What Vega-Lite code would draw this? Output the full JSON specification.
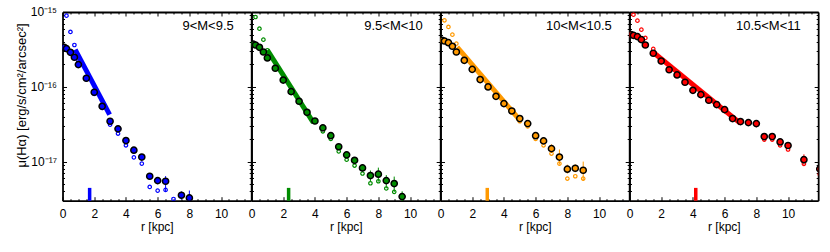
{
  "$schema": "https://vega.github.io/schema/vega-lite/v6.json",
  "autosize": {"type": "pad"},
  "padding": {"left": 15.5, "top": 6, "right": 0, "bottom": 12},
  "background": "white",
  "spacing": 0,
  "bounds": "flush",
  "datasets": {
    "big": [
      {"p":1,"r":0.1,"mu":3.37e-16},{"p":1,"r":0.25,"mu":3.24e-16},{"p":1,"r":0.5,"mu":2.89e-16},{"p":1,"r":0.75,"mu":2.48e-16},{"p":1,"r":1.0,"mu":1.98e-16},{"p":1,"r":1.5,"mu":1.30e-16},{"p":1,"r":2.0,"mu":8.45e-17},{"p":1,"r":2.5,"mu":5.48e-17},{"p":1,"r":3.0,"mu":3.46e-17},{"p":1,"r":3.5,"mu":2.74e-17},{"p":1,"r":4.0,"mu":1.91e-17},{"p":1,"r":4.5,"mu":1.42e-17},{"p":1,"r":5.0,"mu":1.15e-17},{"p":1,"r":5.5,"mu":6.37e-18},{"p":1,"r":6.0,"mu":5.57e-18},{"p":1,"r":6.5,"mu":5.46e-18},{"p":1,"r":7.5,"mu":3.55e-18},{"p":1,"r":8.0,"mu":3.27e-18},
      {"p":2,"r":0.1,"mu":3.73e-16},{"p":2,"r":0.25,"mu":3.62e-16},{"p":2,"r":0.5,"mu":3.37e-16},{"p":2,"r":0.75,"mu":2.92e-16},{"p":2,"r":1.0,"mu":2.43e-16},{"p":2,"r":1.5,"mu":1.77e-16},{"p":2,"r":2.0,"mu":1.23e-16},{"p":2,"r":2.5,"mu":8.61e-17},{"p":2,"r":3.0,"mu":6.40e-17},{"p":2,"r":3.5,"mu":4.56e-17},{"p":2,"r":4.0,"mu":3.49e-17},{"p":2,"r":4.5,"mu":2.82e-17},{"p":2,"r":5.0,"mu":2.22e-17},{"p":2,"r":5.5,"mu":1.58e-17},{"p":2,"r":6.0,"mu":1.23e-17},{"p":2,"r":6.5,"mu":1.04e-17},{"p":2,"r":7.0,"mu":8.22e-18},{"p":2,"r":7.5,"mu":6.50e-18},{"p":2,"r":8.0,"mu":6.78e-18},{"p":2,"r":8.5,"mu":5.57e-18},{"p":2,"r":9.0,"mu":5.08e-18},{"p":2,"r":9.5,"mu":3.40e-18},
      {"p":3,"r":0.1,"mu":4.18e-16},{"p":3,"r":0.25,"mu":4.09e-16},{"p":3,"r":0.5,"mu":3.89e-16},{"p":3,"r":0.75,"mu":3.48e-16},{"p":3,"r":1.0,"mu":2.92e-16},{"p":3,"r":1.5,"mu":2.26e-16},{"p":3,"r":2.0,"mu":1.71e-16},{"p":3,"r":2.5,"mu":1.25e-16},{"p":3,"r":3.0,"mu":9.95e-17},{"p":3,"r":3.5,"mu":7.46e-17},{"p":3,"r":4.0,"mu":5.96e-17},{"p":3,"r":4.5,"mu":4.75e-17},{"p":3,"r":5.0,"mu":3.76e-17},{"p":3,"r":5.5,"mu":3.22e-17},{"p":3,"r":6.0,"mu":2.22e-17},{"p":3,"r":6.5,"mu":1.89e-17},{"p":3,"r":7.0,"mu":1.49e-17},{"p":3,"r":7.5,"mu":1.15e-17},{"p":3,"r":8.0,"mu":7.91e-18},{"p":3,"r":8.5,"mu":8.15e-18},{"p":3,"r":9.0,"mu":7.66e-18},
      {"p":4,"r":0.1,"mu":4.98e-16},{"p":4,"r":0.25,"mu":4.88e-16},{"p":4,"r":0.5,"mu":4.68e-16},{"p":4,"r":0.75,"mu":4.27e-16},{"p":4,"r":1.0,"mu":3.62e-16},{"p":4,"r":1.5,"mu":2.81e-16},{"p":4,"r":2.0,"mu":2.21e-16},{"p":4,"r":2.5,"mu":1.69e-16},{"p":4,"r":3.0,"mu":1.44e-16},{"p":4,"r":3.5,"mu":1.15e-16},{"p":4,"r":4.0,"mu":8.97e-17},{"p":4,"r":4.5,"mu":7.85e-17},{"p":4,"r":5.0,"mu":6.61e-17},{"p":4,"r":5.5,"mu":5.78e-17},{"p":4,"r":6.0,"mu":4.95e-17},{"p":4,"r":6.5,"mu":3.76e-17},{"p":4,"r":7.0,"mu":3.43e-17},{"p":4,"r":7.5,"mu":3.32e-17},{"p":4,"r":8.0,"mu":3.22e-17},{"p":4,"r":8.5,"mu":2.16e-17},{"p":4,"r":9.0,"mu":2.16e-17},{"p":4,"r":9.5,"mu":1.83e-17},{"p":4,"r":10.0,"mu":1.64e-17},{"p":4,"r":11.0,"mu":1.06e-17},{"p":4,"r":12.0,"mu":7.98e-18}
    ],
    "small": [
      {"p":1,"r":0.25,"mu":8.94e-16},{"p":1,"r":0.5,"mu":5.41e-16},{"p":1,"r":0.75,"mu":3.62e-16},{"p":1,"r":1.0,"mu":2.19e-16},{"p":1,"r":1.5,"mu":1.27e-16},{"p":1,"r":2.0,"mu":8.04e-17},{"p":1,"r":2.5,"mu":5.21e-17},{"p":1,"r":3.0,"mu":3.12e-17},{"p":1,"r":3.5,"mu":2.37e-17},{"p":1,"r":4.0,"mu":1.65e-17},{"p":1,"r":4.5,"mu":1.14e-17},{"p":1,"r":5.0,"mu":9.40e-18},{"p":1,"r":5.5,"mu":4.58e-18},{"p":1,"r":6.0,"mu":4.09e-18},{"p":1,"r":6.5,"mu":4.18e-18},{"p":1,"r":7.0,"mu":3.16e-18},
      {"p":2,"r":0.25,"mu":8.57e-16},{"p":2,"r":0.5,"mu":5.98e-16},{"p":2,"r":0.75,"mu":4.27e-16},{"p":2,"r":1.0,"mu":3.08e-16},{"p":2,"r":1.5,"mu":1.74e-16},{"p":2,"r":2.0,"mu":1.22e-16},{"p":2,"r":2.5,"mu":8.51e-17},{"p":2,"r":3.0,"mu":6.31e-17},{"p":2,"r":3.5,"mu":4.47e-17},{"p":2,"r":4.0,"mu":3.39e-17},{"p":2,"r":4.5,"mu":2.54e-17},{"p":2,"r":5.0,"mu":2.01e-17},{"p":2,"r":5.5,"mu":1.37e-17},{"p":2,"r":6.0,"mu":1.06e-17},{"p":2,"r":6.5,"mu":8.85e-18},{"p":2,"r":7.0,"mu":6.92e-18},{"p":2,"r":7.5,"mu":5.13e-18},{"p":2,"r":8.0,"mu":5.46e-18},{"p":2,"r":8.5,"mu":4.37e-18},{"p":2,"r":9.0,"mu":3.94e-18},{"p":2,"r":9.5,"mu":3.24e-18},
      {"p":3,"r":0.25,"mu":7.74e-16},{"p":3,"r":0.5,"mu":6.31e-16},{"p":3,"r":0.75,"mu":4.98e-16},{"p":3,"r":1.0,"mu":3.78e-16},{"p":3,"r":1.5,"mu":2.19e-16},{"p":3,"r":2.0,"mu":1.66e-16},{"p":3,"r":2.5,"mu":1.23e-16},{"p":3,"r":3.0,"mu":9.77e-17},{"p":3,"r":3.5,"mu":7.24e-17},{"p":3,"r":4.0,"mu":5.75e-17},{"p":3,"r":4.5,"mu":4.57e-17},{"p":3,"r":5.0,"mu":3.46e-17},{"p":3,"r":5.5,"mu":2.96e-17},{"p":3,"r":6.0,"mu":2.01e-17},{"p":3,"r":6.5,"mu":1.65e-17},{"p":3,"r":7.0,"mu":1.28e-17},{"p":3,"r":7.5,"mu":9.40e-18},{"p":3,"r":8.0,"mu":5.93e-18},{"p":3,"r":8.5,"mu":6.37e-18},{"p":3,"r":9.0,"mu":5.93e-18},
      {"p":4,"r":0.25,"mu":9.20e-16},{"p":4,"r":0.5,"mu":7.66e-16},{"p":4,"r":0.75,"mu":5.81e-16},{"p":4,"r":1.0,"mu":4.50e-16},{"p":4,"r":1.5,"mu":3.21e-16},{"p":4,"r":2.0,"mu":2.14e-16},{"p":4,"r":2.5,"mu":1.66e-16},{"p":4,"r":3.0,"mu":1.41e-16},{"p":4,"r":3.5,"mu":1.12e-16},{"p":4,"r":4.0,"mu":8.71e-17},{"p":4,"r":4.5,"mu":7.59e-17},{"p":4,"r":5.0,"mu":6.46e-17},{"p":4,"r":5.5,"mu":5.62e-17},{"p":4,"r":6.0,"mu":4.79e-17},{"p":4,"r":6.5,"mu":3.63e-17},{"p":4,"r":7.0,"mu":3.31e-17},{"p":4,"r":7.5,"mu":3.24e-17},{"p":4,"r":8.0,"mu":3.09e-17},{"p":4,"r":8.5,"mu":1.97e-17},{"p":4,"r":9.0,"mu":1.97e-17},{"p":4,"r":9.5,"mu":1.65e-17},{"p":4,"r":10.0,"mu":1.45e-17},{"p":4,"r":11.0,"mu":9.33e-18},{"p":4,"r":12.0,"mu":6.76e-18}
    ],
    "fit": [
      {"p":1,"r":0.8,"mu":3.14e-16},{"p":1,"r":2.97,"mu":4.25e-17},
      {"p":2,"r":1.0,"mu":3.09e-16},{"p":2,"r":3.9,"mu":3.31e-17},
      {"p":3,"r":1.05,"mu":3.39e-16},{"p":3,"r":5.06,"mu":3.47e-17},
      {"p":4,"r":1.55,"mu":2.83e-16},{"p":4,"r":7.0,"mu":3.24e-17}
    ],
    "err": [
      {"p":1,"r":5.5,"lo":5.8e-18,"hi":7.0e-18},{"p":1,"r":6.0,"lo":5.0e-18,"hi":6.2e-18},{"p":1,"r":6.5,"lo":4.0e-18,"hi":6.4e-18},{"p":1,"r":7.5,"lo":3.1e-18,"hi":4.0e-18},{"p":1,"r":8.0,"lo":2.9e-18,"hi":4.1e-18},
      {"p":2,"r":7.0,"lo":7.3e-18,"hi":9.2e-18},{"p":2,"r":7.5,"lo":5.4e-18,"hi":7.6e-18},{"p":2,"r":8.0,"lo":5.4e-18,"hi":8.3e-18},{"p":2,"r":8.5,"lo":4.4e-18,"hi":6.6e-18},{"p":2,"r":9.0,"lo":3.9e-18,"hi":6.3e-18},{"p":2,"r":9.5,"lo":2.9e-18,"hi":4.0e-18},
      {"p":3,"r":7.0,"lo":1.3e-17,"hi":1.7e-17},{"p":3,"r":7.5,"lo":9.1e-18,"hi":1.45e-17},{"p":3,"r":8.0,"lo":6.9e-18,"hi":9.1e-18},{"p":3,"r":8.5,"lo":7.2e-18,"hi":9.2e-18},{"p":3,"r":9.0,"lo":5.5e-18,"hi":1.0e-17},
      {"p":4,"r":10.0,"lo":1.5e-17,"hi":1.8e-17},{"p":4,"r":11.0,"lo":9.0e-18,"hi":1.25e-17},{"p":4,"r":12.0,"lo":6.5e-18,"hi":9.5e-18}
    ],
    "bar": [
      {"p":1,"r":1.71,"lo":3e-18,"hi":4.45e-18},
      {"p":2,"r":2.34,"lo":3e-18,"hi":4.45e-18},
      {"p":3,"r":2.95,"lo":3e-18,"hi":4.45e-18},
      {"p":4,"r":4.18,"lo":3e-18,"hi":4.45e-18}
    ],
    "lab": [
      {"p":1,"t":"9<M<9.5"},{"p":2,"t":"9.5<M<10"},{"p":3,"t":"10<M<10.5"},{"p":4,"t":"10.5<M<11"}
    ]
  },
  "hconcat": [
    {
      "width": 188.7, "height": 188.7,
      "resolve": {"axis": {"x": "independent", "y": "independent"}},
      "layer": [
        {"data": {"name": "fit"}, "transform": [{"filter": "datum.p == 1"}],
         "mark": {"type": "line", "color": "#0000ff", "strokeWidth": 5, "clip": true},
         "encoding": {
           "x": {"field": "r", "type": "quantitative", "scale": {"domain": [0, 11.9], "nice": false, "zero": false}, "axis": {"orient": "bottom", "values": [0,2,4,6,8,10], "tickSize": -4, "labelPadding": 12, "title": "r [kpc]", "titlePadding": 2}},
           "y": {"field": "mu", "type": "quantitative", "scale": {"type": "log", "domain": [3e-18, 1e-15], "nice": false}, "axis": {"orient": "left", "values": [1e-17, 1e-16, 1e-15], "tickSize": -4, "labelPadding": 10, "labelExpr": "datum.value < 5e-17 ? '10⁻¹⁷' : (datum.value < 5e-16 ? '10⁻¹⁶' : '10⁻¹⁵')", "title": "μ(Hα) [erg/s/cm²/arcsec²]", "titleFontSize": 13, "titleX": -40.8, "titleY": 83, "titleAngle": -90, "titleAlign": "center", "titleBaseline": "middle"}}
         }},
        {"data": {"name": "small"}, "transform": [{"filter": "datum.p == 1"}],
         "mark": {"type": "point", "filled": false, "color": "#0000ff", "size": 12, "strokeWidth": 1.2, "opacity": 1, "clip": true},
         "encoding": {
           "x": {"field": "r", "type": "quantitative", "scale": {"domain": [0, 11.9], "nice": false, "zero": false}, "axis": {"orient": "top", "values": [0,2,4,6,8,10], "tickSize": -4, "labels": false, "title": null}},
           "y": {"field": "mu", "type": "quantitative", "scale": {"type": "log", "domain": [3e-18, 1e-15], "nice": false}, "axis": {"orient": "right", "values": [1e-17, 1e-16, 1e-15], "tickSize": -4, "labels": false, "title": null}}
         }},
        {"data": {"name": "err"}, "transform": [{"filter": "datum.p == 1"}],
         "mark": {"type": "rule", "color": "#0000ff", "strokeWidth": 1, "clip": true},
         "encoding": {
           "x": {"field": "r", "type": "quantitative", "scale": {"domain": [0, 11.9], "nice": false, "zero": false}, "axis": {"orient": "bottom", "values": [0.5,1,1.5,2.5,3,3.5,4.5,5,5.5,6.5,7,7.5,8.5,9,9.5,10.5,11,11.5], "tickSize": -2, "labels": false, "domain": false, "title": null}},
           "y": {"field": "lo", "type": "quantitative", "scale": {"type": "log", "domain": [3e-18, 1e-15], "nice": false}, "axis": {"orient": "left", "values": [4e-18,5e-18,6e-18,7e-18,8e-18,9e-18,2e-17,3e-17,4e-17,5e-17,6e-17,7e-17,8e-17,9e-17,2e-16,3e-16,4e-16,5e-16,6e-16,7e-16,8e-16,9e-16], "tickSize": -2, "labels": false, "domain": false, "title": null}},
           "y2": {"field": "hi"}
         }},
        {"data": {"name": "big"}, "transform": [{"filter": "datum.p == 1"}],
         "mark": {"type": "point", "filled": true, "fill": "#0000ff", "stroke": "black", "strokeWidth": 1.5, "size": 38, "opacity": 1, "clip": true},
         "encoding": {
           "x": {"field": "r", "type": "quantitative", "scale": {"domain": [0, 11.9], "nice": false, "zero": false}, "axis": {"orient": "top", "values": [0.5,1,1.5,2.5,3,3.5,4.5,5,5.5,6.5,7,7.5,8.5,9,9.5,10.5,11,11.5], "tickSize": -2, "labels": false, "domain": false, "title": null}},
           "y": {"field": "mu", "type": "quantitative", "scale": {"type": "log", "domain": [3e-18, 1e-15], "nice": false}, "axis": {"orient": "right", "values": [4e-18,5e-18,6e-18,7e-18,8e-18,9e-18,2e-17,3e-17,4e-17,5e-17,6e-17,7e-17,8e-17,9e-17,2e-16,3e-16,4e-16,5e-16,6e-16,7e-16,8e-16,9e-16], "tickSize": -2, "labels": false, "domain": false, "title": null}}
         }},
        {"data": {"name": "bar"}, "transform": [{"filter": "datum.p == 1"}],
         "mark": {"type": "rule", "color": "#0000ff", "strokeWidth": 3.5},
         "encoding": {
           "x": {"field": "r", "type": "quantitative", "scale": {"domain": [0, 11.9], "nice": false, "zero": false}, "axis": null},
           "y": {"field": "lo", "type": "quantitative", "scale": {"type": "log", "domain": [3e-18, 1e-15], "nice": false}, "axis": null},
           "y2": {"field": "hi"}
         }},
        {"data": {"name": "lab"}, "transform": [{"filter": "datum.p == 1"}],
         "mark": {"type": "text", "align": "right", "baseline": "middle", "fontSize": 13, "font": "Liberation Sans", "color": "black"},
         "encoding": {
           "x": {"datum": 10.8, "type": "quantitative", "scale": {"domain": [0, 11.9], "nice": false, "zero": false}, "axis": null},
           "y": {"datum": 6.5e-16, "type": "quantitative", "scale": {"type": "log", "domain": [3e-18, 1e-15], "nice": false}, "axis": null},
           "text": {"field": "t"}
         }}
      ]
    },
    {
      "width": 188.7, "height": 188.7,
      "resolve": {"axis": {"x": "independent", "y": "independent"}},
      "layer": [
        {"data": {"name": "fit"}, "transform": [{"filter": "datum.p == 2"}],
         "mark": {"type": "line", "color": "#008c00", "strokeWidth": 5, "clip": true},
         "encoding": {
           "x": {"field": "r", "type": "quantitative", "scale": {"domain": [0, 11.9], "nice": false, "zero": false}, "axis": {"orient": "bottom", "values": [0,2,4,6,8,10], "tickSize": -4, "labelPadding": 12, "title": "r [kpc]", "titlePadding": 2}},
           "y": {"field": "mu", "type": "quantitative", "scale": {"type": "log", "domain": [3e-18, 1e-15], "nice": false}, "axis": {"orient": "left", "values": [1e-17, 1e-16, 1e-15], "tickSize": -4, "labels": false, "title": null}}
         }},
        {"data": {"name": "small"}, "transform": [{"filter": "datum.p == 2"}],
         "mark": {"type": "point", "filled": false, "color": "#008c00", "size": 12, "strokeWidth": 1.2, "opacity": 1, "clip": true},
         "encoding": {
           "x": {"field": "r", "type": "quantitative", "scale": {"domain": [0, 11.9], "nice": false, "zero": false}, "axis": {"orient": "top", "values": [0,2,4,6,8,10], "tickSize": -4, "labels": false, "title": null}},
           "y": {"field": "mu", "type": "quantitative", "scale": {"type": "log", "domain": [3e-18, 1e-15], "nice": false}, "axis": {"orient": "right", "values": [1e-17, 1e-16, 1e-15], "tickSize": -4, "labels": false, "title": null}}
         }},
        {"data": {"name": "err"}, "transform": [{"filter": "datum.p == 2"}],
         "mark": {"type": "rule", "color": "#008c00", "strokeWidth": 1, "clip": true},
         "encoding": {
           "x": {"field": "r", "type": "quantitative", "scale": {"domain": [0, 11.9], "nice": false, "zero": false}, "axis": {"orient": "bottom", "values": [0.5,1,1.5,2.5,3,3.5,4.5,5,5.5,6.5,7,7.5,8.5,9,9.5,10.5,11,11.5], "tickSize": -2, "labels": false, "domain": false, "title": null}},
           "y": {"field": "lo", "type": "quantitative", "scale": {"type": "log", "domain": [3e-18, 1e-15], "nice": false}, "axis": {"orient": "left", "values": [4e-18,5e-18,6e-18,7e-18,8e-18,9e-18,2e-17,3e-17,4e-17,5e-17,6e-17,7e-17,8e-17,9e-17,2e-16,3e-16,4e-16,5e-16,6e-16,7e-16,8e-16,9e-16], "tickSize": -2, "labels": false, "domain": false, "title": null}},
           "y2": {"field": "hi"}
         }},
        {"data": {"name": "big"}, "transform": [{"filter": "datum.p == 2"}],
         "mark": {"type": "point", "filled": true, "fill": "#008c00", "stroke": "black", "strokeWidth": 1.5, "size": 38, "opacity": 1, "clip": true},
         "encoding": {
           "x": {"field": "r", "type": "quantitative", "scale": {"domain": [0, 11.9], "nice": false, "zero": false}, "axis": {"orient": "top", "values": [0.5,1,1.5,2.5,3,3.5,4.5,5,5.5,6.5,7,7.5,8.5,9,9.5,10.5,11,11.5], "tickSize": -2, "labels": false, "domain": false, "title": null}},
           "y": {"field": "mu", "type": "quantitative", "scale": {"type": "log", "domain": [3e-18, 1e-15], "nice": false}, "axis": {"orient": "right", "values": [4e-18,5e-18,6e-18,7e-18,8e-18,9e-18,2e-17,3e-17,4e-17,5e-17,6e-17,7e-17,8e-17,9e-17,2e-16,3e-16,4e-16,5e-16,6e-16,7e-16,8e-16,9e-16], "tickSize": -2, "labels": false, "domain": false, "title": null}}
         }},
        {"data": {"name": "bar"}, "transform": [{"filter": "datum.p == 2"}],
         "mark": {"type": "rule", "color": "#008c00", "strokeWidth": 3.5},
         "encoding": {
           "x": {"field": "r", "type": "quantitative", "scale": {"domain": [0, 11.9], "nice": false, "zero": false}, "axis": null},
           "y": {"field": "lo", "type": "quantitative", "scale": {"type": "log", "domain": [3e-18, 1e-15], "nice": false}, "axis": null},
           "y2": {"field": "hi"}
         }},
        {"data": {"name": "lab"}, "transform": [{"filter": "datum.p == 2"}],
         "mark": {"type": "text", "align": "right", "baseline": "middle", "fontSize": 13, "font": "Liberation Sans", "color": "black"},
         "encoding": {
           "x": {"datum": 10.8, "type": "quantitative", "scale": {"domain": [0, 11.9], "nice": false, "zero": false}, "axis": null},
           "y": {"datum": 6.5e-16, "type": "quantitative", "scale": {"type": "log", "domain": [3e-18, 1e-15], "nice": false}, "axis": null},
           "text": {"field": "t"}
         }}
      ]
    },
    {
      "width": 188.7, "height": 188.7,
      "resolve": {"axis": {"x": "independent", "y": "independent"}},
      "layer": [
        {"data": {"name": "fit"}, "transform": [{"filter": "datum.p == 3"}],
         "mark": {"type": "line", "color": "#ff9900", "strokeWidth": 5, "clip": true},
         "encoding": {
           "x": {"field": "r", "type": "quantitative", "scale": {"domain": [0, 11.9], "nice": false, "zero": false}, "axis": {"orient": "bottom", "values": [0,2,4,6,8,10], "tickSize": -4, "labelPadding": 12, "title": "r [kpc]", "titlePadding": 2}},
           "y": {"field": "mu", "type": "quantitative", "scale": {"type": "log", "domain": [3e-18, 1e-15], "nice": false}, "axis": {"orient": "left", "values": [1e-17, 1e-16, 1e-15], "tickSize": -4, "labels": false, "title": null}}
         }},
        {"data": {"name": "small"}, "transform": [{"filter": "datum.p == 3"}],
         "mark": {"type": "point", "filled": false, "color": "#ff9900", "size": 12, "strokeWidth": 1.2, "opacity": 1, "clip": true},
         "encoding": {
           "x": {"field": "r", "type": "quantitative", "scale": {"domain": [0, 11.9], "nice": false, "zero": false}, "axis": {"orient": "top", "values": [0,2,4,6,8,10], "tickSize": -4, "labels": false, "title": null}},
           "y": {"field": "mu", "type": "quantitative", "scale": {"type": "log", "domain": [3e-18, 1e-15], "nice": false}, "axis": {"orient": "right", "values": [1e-17, 1e-16, 1e-15], "tickSize": -4, "labels": false, "title": null}}
         }},
        {"data": {"name": "err"}, "transform": [{"filter": "datum.p == 3"}],
         "mark": {"type": "rule", "color": "#ff9900", "strokeWidth": 1, "clip": true},
         "encoding": {
           "x": {"field": "r", "type": "quantitative", "scale": {"domain": [0, 11.9], "nice": false, "zero": false}, "axis": {"orient": "bottom", "values": [0.5,1,1.5,2.5,3,3.5,4.5,5,5.5,6.5,7,7.5,8.5,9,9.5,10.5,11,11.5], "tickSize": -2, "labels": false, "domain": false, "title": null}},
           "y": {"field": "lo", "type": "quantitative", "scale": {"type": "log", "domain": [3e-18, 1e-15], "nice": false}, "axis": {"orient": "left", "values": [4e-18,5e-18,6e-18,7e-18,8e-18,9e-18,2e-17,3e-17,4e-17,5e-17,6e-17,7e-17,8e-17,9e-17,2e-16,3e-16,4e-16,5e-16,6e-16,7e-16,8e-16,9e-16], "tickSize": -2, "labels": false, "domain": false, "title": null}},
           "y2": {"field": "hi"}
         }},
        {"data": {"name": "big"}, "transform": [{"filter": "datum.p == 3"}],
         "mark": {"type": "point", "filled": true, "fill": "#ff9900", "stroke": "black", "strokeWidth": 1.5, "size": 38, "opacity": 1, "clip": true},
         "encoding": {
           "x": {"field": "r", "type": "quantitative", "scale": {"domain": [0, 11.9], "nice": false, "zero": false}, "axis": {"orient": "top", "values": [0.5,1,1.5,2.5,3,3.5,4.5,5,5.5,6.5,7,7.5,8.5,9,9.5,10.5,11,11.5], "tickSize": -2, "labels": false, "domain": false, "title": null}},
           "y": {"field": "mu", "type": "quantitative", "scale": {"type": "log", "domain": [3e-18, 1e-15], "nice": false}, "axis": {"orient": "right", "values": [4e-18,5e-18,6e-18,7e-18,8e-18,9e-18,2e-17,3e-17,4e-17,5e-17,6e-17,7e-17,8e-17,9e-17,2e-16,3e-16,4e-16,5e-16,6e-16,7e-16,8e-16,9e-16], "tickSize": -2, "labels": false, "domain": false, "title": null}}
         }},
        {"data": {"name": "bar"}, "transform": [{"filter": "datum.p == 3"}],
         "mark": {"type": "rule", "color": "#ff9900", "strokeWidth": 3.5},
         "encoding": {
           "x": {"field": "r", "type": "quantitative", "scale": {"domain": [0, 11.9], "nice": false, "zero": false}, "axis": null},
           "y": {"field": "lo", "type": "quantitative", "scale": {"type": "log", "domain": [3e-18, 1e-15], "nice": false}, "axis": null},
           "y2": {"field": "hi"}
         }},
        {"data": {"name": "lab"}, "transform": [{"filter": "datum.p == 3"}],
         "mark": {"type": "text", "align": "right", "baseline": "middle", "fontSize": 13, "font": "Liberation Sans", "color": "black"},
         "encoding": {
           "x": {"datum": 10.8, "type": "quantitative", "scale": {"domain": [0, 11.9], "nice": false, "zero": false}, "axis": null},
           "y": {"datum": 6.5e-16, "type": "quantitative", "scale": {"type": "log", "domain": [3e-18, 1e-15], "nice": false}, "axis": null},
           "text": {"field": "t"}
         }}
      ]
    },
    {
      "width": 188.7, "height": 188.7,
      "resolve": {"axis": {"x": "independent", "y": "independent"}},
      "layer": [
        {"data": {"name": "fit"}, "transform": [{"filter": "datum.p == 4"}],
         "mark": {"type": "line", "color": "#ff0000", "strokeWidth": 5, "clip": true},
         "encoding": {
           "x": {"field": "r", "type": "quantitative", "scale": {"domain": [0, 11.9], "nice": false, "zero": false}, "axis": {"orient": "bottom", "values": [0,2,4,6,8,10], "tickSize": -4, "labelPadding": 12, "title": "r [kpc]", "titlePadding": 2}},
           "y": {"field": "mu", "type": "quantitative", "scale": {"type": "log", "domain": [3e-18, 1e-15], "nice": false}, "axis": {"orient": "left", "values": [1e-17, 1e-16, 1e-15], "tickSize": -4, "labels": false, "title": null}}
         }},
        {"data": {"name": "small"}, "transform": [{"filter": "datum.p == 4"}],
         "mark": {"type": "point", "filled": false, "color": "#ff0000", "size": 12, "strokeWidth": 1.2, "opacity": 1, "clip": true},
         "encoding": {
           "x": {"field": "r", "type": "quantitative", "scale": {"domain": [0, 11.9], "nice": false, "zero": false}, "axis": {"orient": "top", "values": [0,2,4,6,8,10], "tickSize": -4, "labels": false, "title": null}},
           "y": {"field": "mu", "type": "quantitative", "scale": {"type": "log", "domain": [3e-18, 1e-15], "nice": false}, "axis": {"orient": "right", "values": [1e-17, 1e-16, 1e-15], "tickSize": -4, "labels": false, "title": null}}
         }},
        {"data": {"name": "err"}, "transform": [{"filter": "datum.p == 4"}],
         "mark": {"type": "rule", "color": "#ff0000", "strokeWidth": 1, "clip": true},
         "encoding": {
           "x": {"field": "r", "type": "quantitative", "scale": {"domain": [0, 11.9], "nice": false, "zero": false}, "axis": {"orient": "bottom", "values": [0.5,1,1.5,2.5,3,3.5,4.5,5,5.5,6.5,7,7.5,8.5,9,9.5,10.5,11,11.5], "tickSize": -2, "labels": false, "domain": false, "title": null}},
           "y": {"field": "lo", "type": "quantitative", "scale": {"type": "log", "domain": [3e-18, 1e-15], "nice": false}, "axis": {"orient": "left", "values": [4e-18,5e-18,6e-18,7e-18,8e-18,9e-18,2e-17,3e-17,4e-17,5e-17,6e-17,7e-17,8e-17,9e-17,2e-16,3e-16,4e-16,5e-16,6e-16,7e-16,8e-16,9e-16], "tickSize": -2, "labels": false, "domain": false, "title": null}},
           "y2": {"field": "hi"}
         }},
        {"data": {"name": "big"}, "transform": [{"filter": "datum.p == 4"}],
         "mark": {"type": "point", "filled": true, "fill": "#ff0000", "stroke": "black", "strokeWidth": 1.5, "size": 38, "opacity": 1, "clip": true},
         "encoding": {
           "x": {"field": "r", "type": "quantitative", "scale": {"domain": [0, 11.9], "nice": false, "zero": false}, "axis": {"orient": "top", "values": [0.5,1,1.5,2.5,3,3.5,4.5,5,5.5,6.5,7,7.5,8.5,9,9.5,10.5,11,11.5], "tickSize": -2, "labels": false, "domain": false, "title": null}},
           "y": {"field": "mu", "type": "quantitative", "scale": {"type": "log", "domain": [3e-18, 1e-15], "nice": false}, "axis": {"orient": "right", "values": [4e-18,5e-18,6e-18,7e-18,8e-18,9e-18,2e-17,3e-17,4e-17,5e-17,6e-17,7e-17,8e-17,9e-17,2e-16,3e-16,4e-16,5e-16,6e-16,7e-16,8e-16,9e-16], "tickSize": -2, "labels": false, "domain": false, "title": null}}
         }},
        {"data": {"name": "bar"}, "transform": [{"filter": "datum.p == 4"}],
         "mark": {"type": "rule", "color": "#ff0000", "strokeWidth": 3.5},
         "encoding": {
           "x": {"field": "r", "type": "quantitative", "scale": {"domain": [0, 11.9], "nice": false, "zero": false}, "axis": null},
           "y": {"field": "lo", "type": "quantitative", "scale": {"type": "log", "domain": [3e-18, 1e-15], "nice": false}, "axis": null},
           "y2": {"field": "hi"}
         }},
        {"data": {"name": "lab"}, "transform": [{"filter": "datum.p == 4"}],
         "mark": {"type": "text", "align": "right", "baseline": "middle", "fontSize": 13, "font": "Liberation Sans", "color": "black"},
         "encoding": {
           "x": {"datum": 10.8, "type": "quantitative", "scale": {"domain": [0, 11.9], "nice": false, "zero": false}, "axis": null},
           "y": {"datum": 6.5e-16, "type": "quantitative", "scale": {"type": "log", "domain": [3e-18, 1e-15], "nice": false}, "axis": null},
           "text": {"field": "t"}
         }}
      ]
    }
  ],
  "config": {
    "view": {"stroke": null},
    "font": "Liberation Sans",
    "axis": {
      "grid": false,
      "domainColor": "black",
      "domainWidth": 1.8,
      "tickColor": "black",
      "tickWidth": 1,
      "labelColor": "black",
      "labelFont": "Liberation Sans",
      "labelFontSize": 12,
      "labelFlush": false,
      "labelOverlap": false,
      "titleColor": "black",
      "titleFont": "Liberation Sans",
      "titleFontSize": 12,
      "titleFontWeight": "normal"
    }
  }
}
